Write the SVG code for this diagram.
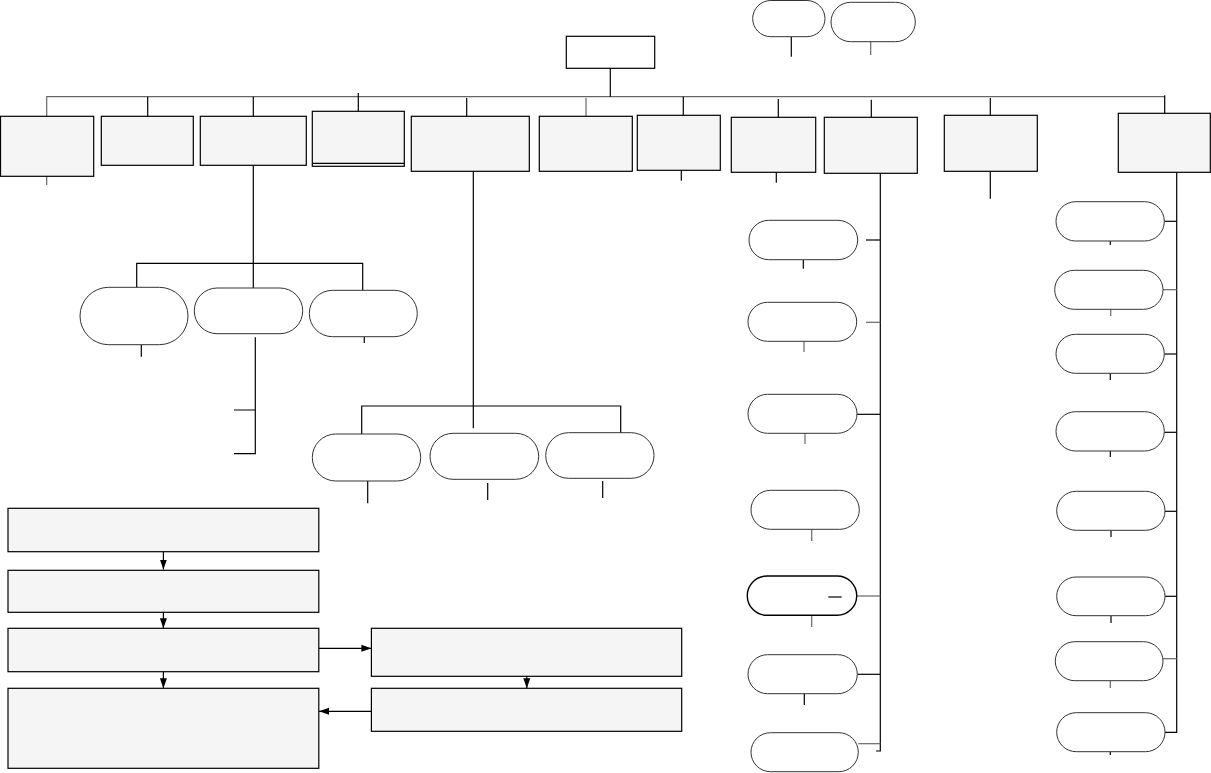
<svg xmlns="http://www.w3.org/2000/svg" width="1211" height="773" viewBox="0 0 1211 773">
<style>
.box{fill:#f5f5f5;stroke:#000;stroke-width:1.2}
.root{fill:#fff;stroke:#000;stroke-width:1.2}
.pill{fill:#fff;stroke:#333;stroke-width:1}
.ln{fill:none;stroke:#000;stroke-width:1.2}
.gl{fill:none;stroke:#666;stroke-width:1.2}
.ar{fill:none;stroke:#000;stroke-width:1.2;marker-end:url(#ah)}
</style>
<defs>
<marker id="ah" viewBox="0 0 10 10" refX="10" refY="5" markerWidth="10" markerHeight="10" markerUnits="userSpaceOnUse" orient="auto">
<path d="M0,1.5 L10,5 L0,8.5 z" fill="#000"/>
</marker>
</defs>
<rect width="1211" height="773" fill="#fff"/>
<g id="connectors">
<path class="gl" d="M46.7,116 V96.7 H1165"/>
<path class="gl" d="M46.7,176 V185"/>
<path class="ln" d="M610.3,68.3 V96.7"/>
<path class="ln" d="M147.7,96.7 V116.3"/>
<path class="ln" d="M253.3,96.7 V117.6"/>
<path class="ln" d="M358.3,93 V111.3"/>
<path class="ln" d="M466.7,98 V116.3"/>
<path class="gl" d="M586,98 V116.3"/>
<path class="ln" d="M683.3,96.7 V115.3"/>
<path class="ln" d="M778.3,99 V117.3"/>
<path class="ln" d="M871.3,99.7 V117.3"/>
<path class="ln" d="M990.3,98 V115.3"/>
<path class="ln" d="M1164.7,95.3 V113.3"/>
<path class="ln" d="M681.3,170.3 V180.7"/>
<path class="ln" d="M776.3,172.3 V182.7"/>
<path class="ln" d="M990.3,171.3 V198.7"/>
<path class="ln" d="M791.3,37 V56.7"/>
<path class="gl" d="M870.7,41.7 V55"/>
<!-- left subtree -->
<path class="ln" d="M253.3,165.3 V288.3 M136.7,288.3 V263.3 H362.7 V290"/>
<path class="ln" d="M141.3,345 V356.7"/>
<path class="ln" d="M255.3,337.3 V453.7 H234 M255.3,410 H234"/>
<path class="ln" d="M364.3,337 V343"/>
<!-- middle subtree -->
<path class="ln" d="M473.3,171.3 V428.3 M361.7,440 V406 H620.7 V433.3"/>
<path class="ln" d="M367.7,481 V503.3"/>
<path class="ln" d="M487.7,483 V500"/>
<path class="ln" d="M602.7,481 V498"/>
<!-- column M -->
<path class="ln" d="M880.3,173.3 V751 H876"/>
<path class="ln" d="M866,240 H880.3"/>
<path class="gl" d="M866,322.3 H880.3"/>
<path class="ln" d="M857,414.3 H880.3"/>
<path class="gl" d="M856.7,596 H880.3"/>
<path class="ln" d="M857.3,674.3 H880.3"/>
<path class="gl" d="M858.3,743.7 H880.3"/>
<path class="ln" d="M803.3,259.7 V268.7"/>
<path class="gl" d="M804,341.3 V352"/>
<path class="gl" d="M805,433.3 V444"/>
<path class="gl" d="M811.7,529.3 V541"/>
<path class="gl" d="M811.7,615.3 V627"/>
<path class="ln" d="M804.3,693.7 V705"/>
<!-- column R -->
<path class="ln" d="M1176.7,172.3 V732.3 H1165"/>
<path class="ln" d="M1164.3,221.3 H1176.7"/>
<path class="gl" d="M1163,289.7 H1176.7"/>
<path class="ln" d="M1164.3,354 H1176.7"/>
<path class="ln" d="M1164.3,432.3 H1176.7"/>
<path class="ln" d="M1165,511.3 H1176.7"/>
<path class="ln" d="M1165,596.3 H1176.7"/>
<path class="gl" d="M1163,658.7 H1176.7"/>
<path class="ln" d="M1110.3,241 V245"/>
<path class="gl" d="M1110.7,309.3 V316"/>
<path class="ln" d="M1110.3,373.3 V380"/>
<path class="ln" d="M1110.3,451 V457"/>
<path class="ln" d="M1111,530.3 V537"/>
<path class="ln" d="M1111,615.7 V623"/>
<path class="gl" d="M1110.3,680.7 V688"/>
<path class="ln" d="M1110.3,748 V755"/>
<!-- flow arrows -->
<path class="ar" d="M163.4,551.7 V569.5"/>
<path class="ar" d="M163.4,612.3 V628.3"/>
<path class="ar" d="M163.4,671.7 V688.3"/>
<path class="ar" d="M318.8,648.3 H371.4"/>
<path class="ar" d="M526.8,670.7 V688.3"/>
<path class="ar" d="M371.4,711.3 H319"/>
</g>
<g id="root"><rect class="root" x="566.3" y="36.3" width="88.4" height="32"/></g>
<g id="top-pill-1"><rect class="pill" x="752.7" y="0.5" width="72.3" height="36.2" rx="18.1"/></g>
<g id="top-pill-2"><rect class="pill" x="831" y="2.3" width="84.3" height="39.4" rx="19.7"/></g>
<g id="b1"><rect class="box" x="0.5" y="116.3" width="93.2" height="60"/></g>
<g id="b2"><rect class="box" x="101.3" y="116.3" width="92" height="49"/></g>
<g id="b3"><rect class="box" x="200.3" y="116.3" width="106" height="49"/></g>
<g id="b4"><rect class="box" x="312.3" y="111.3" width="92" height="55"/><path class="ln" d="M312.3,163.3 H404.3"/></g>
<g id="b5"><rect class="box" x="411.3" y="116.3" width="118" height="55"/></g>
<g id="b6"><rect class="box" x="539.3" y="116.3" width="93" height="55"/></g>
<g id="b7"><rect class="box" x="637.3" y="115.3" width="83" height="55"/></g>
<g id="b8"><rect class="box" x="731.3" y="117.3" width="84.4" height="55"/></g>
<g id="b9"><rect class="box" x="824.3" y="117.3" width="93" height="56"/></g>
<g id="b10"><rect class="box" x="944.3" y="115.3" width="93" height="56"/></g>
<g id="b11"><rect class="box" x="1118.3" y="113.3" width="92" height="59"/></g>
<g id="L1"><rect class="pill" x="80" y="287.3" width="108" height="57.4" rx="28.7"/></g>
<g id="L2"><rect class="pill" x="194.3" y="288" width="108.4" height="45.7" rx="22.8"/></g>
<g id="L3"><rect class="pill" x="309.3" y="290.3" width="108" height="46.4" rx="23.2"/></g>
<g id="C1"><rect class="pill" x="312.3" y="434" width="108.4" height="47" rx="23.5"/></g>
<g id="C2"><rect class="pill" x="430" y="433.3" width="108.7" height="46" rx="23"/></g>
<g id="C3"><rect class="pill" x="545.7" y="432.7" width="108.3" height="45.6" rx="22.8"/></g>
<g id="M1"><rect class="pill" x="749" y="220.3" width="108.7" height="39.4" rx="19.7"/></g>
<g id="M2"><rect class="pill" x="748" y="302.3" width="108.7" height="39" rx="19.5"/></g>
<g id="M3"><rect class="pill" x="748" y="394.3" width="109" height="39" rx="19.5"/></g>
<g id="M4"><rect class="pill" x="751" y="490.3" width="108.3" height="39" rx="19.5"/></g>
<g id="M5"><rect class="pill" x="747.3" y="576" width="109.4" height="39.3" rx="19.6" style="stroke:#000;stroke-width:1.4"/><path class="ln" d="M828.3,597 H841.7"/></g>
<g id="M6"><rect class="pill" x="748" y="654.7" width="109.3" height="39" rx="19.5"/></g>
<g id="M7"><rect class="pill" x="751" y="732.7" width="107.3" height="39" rx="19.5"/></g>
<g id="R1"><rect class="pill" x="1056" y="201.7" width="108.3" height="39.3" rx="19.6"/></g>
<g id="R2"><rect class="pill" x="1054.7" y="270.3" width="108.3" height="39" rx="19.5"/></g>
<g id="R3"><rect class="pill" x="1056" y="334.3" width="108.3" height="39" rx="19.5"/></g>
<g id="R4"><rect class="pill" x="1056" y="411.7" width="108.3" height="39.3" rx="19.6"/></g>
<g id="R5"><rect class="pill" x="1056.7" y="491.3" width="108.3" height="39" rx="19.5"/></g>
<g id="R6"><rect class="pill" x="1056.7" y="577" width="108.3" height="38.7" rx="19.3"/></g>
<g id="R7"><rect class="pill" x="1055.3" y="641.7" width="107.7" height="39" rx="19.5"/></g>
<g id="R8"><rect class="pill" x="1056.7" y="712.7" width="108.3" height="39" rx="19.5"/></g>
<g id="F1"><rect class="box" x="8" y="508.3" width="310.8" height="43.4"/></g>
<g id="F2"><rect class="box" x="8" y="570.3" width="310.8" height="42"/></g>
<g id="F3"><rect class="box" x="8" y="628.3" width="310.8" height="43.4"/></g>
<g id="F4"><rect class="box" x="8" y="688.3" width="310.8" height="80"/></g>
<g id="F5"><rect class="box" x="371.4" y="628.3" width="310.3" height="48"/></g>
<g id="F6"><rect class="box" x="371.4" y="688.3" width="310.3" height="43"/></g>
</svg>
